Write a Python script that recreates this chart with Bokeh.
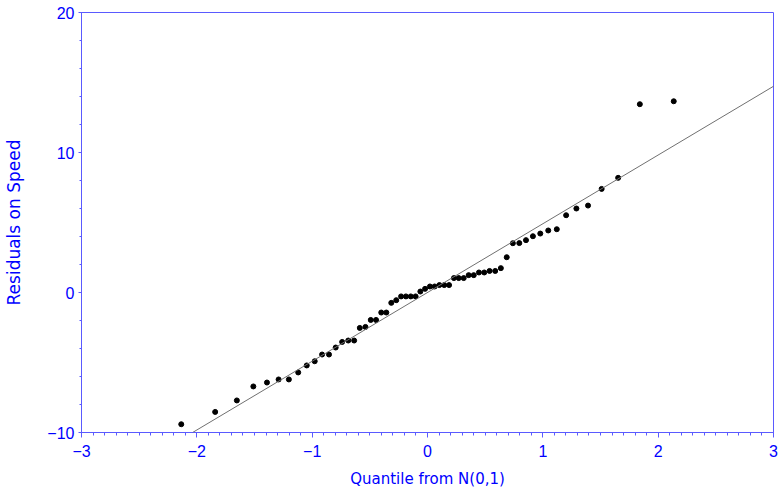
import numpy as np
from bokeh.plotting import figure
from bokeh.models import FixedTicker, Slope, Range1d
from bokeh.embed import file_html
from bokeh.resources import INLINE

# ---- data ----
quantiles = [-2.135, -1.841, -1.653, -1.510, -1.392, -1.291, -1.202, -1.121, -1.047, -0.978,
             -0.914, -0.854, -0.796, -0.740, -0.687, -0.636, -0.587, -0.538, -0.492, -0.446,
             -0.401, -0.357, -0.314, -0.271, -0.229, -0.187, -0.145, -0.103, -0.062, -0.021,
             0.021, 0.062, 0.103, 0.145, 0.187, 0.229, 0.271, 0.314, 0.357, 0.401,
             0.446, 0.492, 0.538, 0.587, 0.636, 0.687, 0.740, 0.796, 0.854, 0.914,
             0.978, 1.047, 1.121, 1.202, 1.291, 1.392, 1.510, 1.653, 1.841, 2.135]
residuals = [-9.41, -8.53, -7.71, -6.71, -6.43, -6.21, -6.21, -5.71, -5.21, -4.91,
             -4.43, -4.43, -3.93, -3.53, -3.43, -3.43, -2.53, -2.46, -1.96, -1.96,
             -1.43, -1.43, -0.74, -0.55, -0.28, -0.28, -0.28, -0.28, 0.07, 0.26,
             0.43, 0.43, 0.53, 0.53, 0.53, 1.03, 1.03, 1.03, 1.24, 1.24,
             1.43, 1.43, 1.54, 1.54, 1.74, 2.52, 3.52, 3.53, 3.74, 4.02,
             4.21, 4.43, 4.52, 5.52, 6.00, 6.21, 7.40, 8.19, 13.45, 13.66]
x_ticks = [-3, -2, -1, 0, 1, 2, 3]
x_tick_labels = ["\u22123", "\u22122", "\u22121", "0", "1", "2", "3"]
y_ticks = [-10, 0, 10, 20]
y_tick_labels = ["\u221210", "0", "10", "20"]
ref_intercept = 0.0
ref_slope = 4.91

# ---- styling ----
BLUE_TEXT = "#0000ff"
BLUE_LINE = "#5a5aff"
TICK_FONT = "Liberation Sans"
TITLE_FONT = "DejaVu Sans"

p = figure(width=778, height=492, x_range=Range1d(-3, 3), y_range=Range1d(-10, 20),
           output_backend="svg", toolbar_location=None,
           min_border_left=81, min_border_right=5, min_border_top=12, min_border_bottom=60)

p.grid.visible = False
p.outline_line_color = BLUE_LINE
p.outline_line_width = 1

p.xaxis.ticker = FixedTicker(ticks=x_ticks,
                             minor_ticks=list(np.round(np.arange(-3, 3.0001, 0.1), 2)))
p.yaxis.ticker = FixedTicker(ticks=y_ticks,
                             minor_ticks=list(np.arange(-10, 20.0001, 2.0)))
p.xaxis.major_label_overrides = dict(zip(x_ticks, x_tick_labels))
p.yaxis.major_label_overrides = dict(zip(y_ticks, y_tick_labels))

for ax in (p.xaxis, p.yaxis):
    ax.axis_line_color = BLUE_LINE
    ax.major_tick_line_color = BLUE_LINE
    ax.minor_tick_line_color = BLUE_LINE
    ax.major_tick_in = 0
    ax.minor_tick_in = 0
    ax.major_label_text_color = BLUE_TEXT
    ax.major_label_text_font = TICK_FONT
    ax.major_label_text_font_size = "16px"
    ax.axis_label_text_color = BLUE_TEXT
    ax.axis_label_text_font = TITLE_FONT
    ax.axis_label_text_font_style = "normal"

p.xaxis.major_tick_out = 5
p.xaxis.minor_tick_out = 3
p.xaxis.major_label_standoff = 7
p.xaxis.axis_label_standoff = 10
p.xaxis.axis_label = "Quantile from N(0,1)"
p.xaxis.axis_label_text_font_size = "15px"

p.yaxis.major_tick_out = 3
p.yaxis.minor_tick_out = 2
p.yaxis.major_label_standoff = 4
p.yaxis.axis_label_standoff = 20
p.yaxis.axis_label = "Residuals on Speed"
p.yaxis.axis_label_text_font_size = "17px"

p.add_layout(Slope(gradient=ref_slope, y_intercept=ref_intercept,
                   line_color="#707070", line_width=1))
p.scatter(quantiles, residuals, size=5, color="black")

open("out.html", "w").write(file_html(p, INLINE))
